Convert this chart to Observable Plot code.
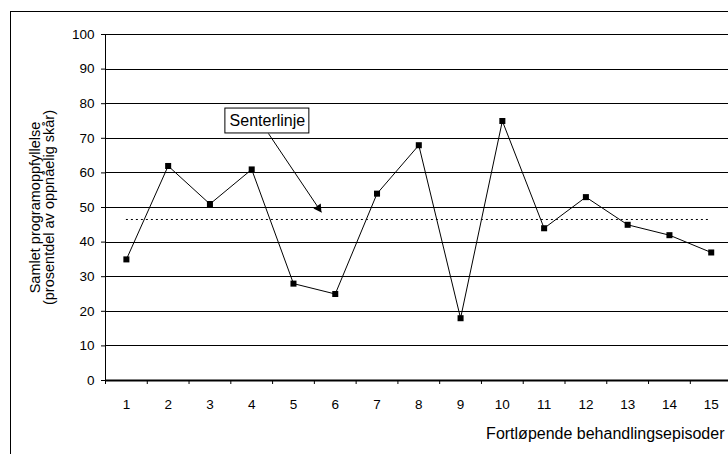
<!DOCTYPE html>
<html>
<head>
<meta charset="utf-8">
<script src="https://cdn.jsdelivr.net/npm/d3@7"></script>
<script src="https://cdn.jsdelivr.net/npm/@observablehq/plot@0.6"></script>
<style>
  html, body { margin: 0; padding: 0; background: #fff; overflow: hidden; }
  #wrap { position: relative; width: 728px; height: 454px; }
  #frame { position: absolute; left: 10px; top: 11px; width: 800px; height: 500px;
           border-left: 1px solid #000; border-top: 1px solid #000; box-sizing: border-box; }
  #chart { position: absolute; left: 0; top: 0; }
</style>
</head>
<body>
<div id="wrap"><div id="frame"></div><div id="chart"></div></div>
<script>
const episodes = [1, 2, 3, 4, 5, 6, 7, 8, 9, 10, 11, 12, 13, 14, 15];
const scores   = [35, 62, 51, 61, 28, 25, 54, 68, 18, 75, 44, 53, 45, 42, 37];
const yTicks   = [0, 10, 20, 30, 40, 50, 60, 70, 80, 90, 100];
const categoryEdges = [0.5, 1.5, 2.5, 3.5, 4.5, 5.5, 6.5, 7.5, 8.5, 9.5, 10.5, 11.5, 12.5, 13.5, 14.5, 15.5];
const centerLabel = "Senterlinje";
const xTitle = "Fortløpende behandlingsepisoder";
const yTitleLines = ["Samlet programoppfyllelse", "(prosentdel av oppnåelig skår)"];

const centerValue = d3.mean(scores);
const data = episodes.map((e, i) => ({episode: e, score: scores[i]}));

// annotation (label box + arrow pointing at the centre line)
const labelBox = [{x1: 3.37, x2: 5.38, y1: 71.4, y2: 78.6, xc: 4.375, yc: 75.0}];
const arrowLink = [{x1: 4.40, y1: 71.4, x2: 5.67, y2: 48.6}];
const arrowHead = [{x: 5.60, y: 49.8}];

const font = "'Liberation Sans', Arial, sans-serif";

const chart = Plot.plot({
  width: 728,
  height: 454,
  marginLeft: 105,
  marginRight: 0,
  marginTop: 34,
  marginBottom: 74,
  style: {fontFamily: font, color: "#000", background: "transparent", overflow: "visible"},
  x: {type: "linear", domain: [0.5, 15.5], range: [105, 731.6]},
  y: {domain: [0, 100]},
  marks: [
    Plot.ruleY(yTicks.filter(d => d > 0), {stroke: "#000", strokeWidth: 1, shapeRendering: "crispEdges"}),
    Plot.ruleX([0.5], {stroke: "#000", strokeWidth: 1, shapeRendering: "crispEdges"}),
    Plot.ruleY([0], {stroke: "#000", strokeWidth: 2}),
    Plot.axisY({ticks: yTicks, tickSize: 4, tickPadding: 7, fontSize: 13.5, label: null, tickFormat: d => String(d)}),
    Plot.axisX({ticks: episodes, tickSize: 0, tickPadding: 19, fontSize: 13.5, label: null, tickFormat: d => String(d)}),
    Plot.axisX({ticks: categoryEdges, tickSize: 4, label: null, tickFormat: () => ""}),
    Plot.ruleY([centerValue], {x1: episodes[0], x2: episodes[episodes.length - 1], stroke: "#000", strokeWidth: 1, strokeDasharray: "2,3"}),
    Plot.line(data, {x: "episode", y: "score", stroke: "#000", strokeWidth: 1}),
    Plot.dot(data, {x: "episode", y: "score", symbol: "square", r: 3.4, fill: "#000", stroke: "none"}),
    Plot.link(arrowLink, {x1: "x1", y1: "y1", x2: "x2", y2: "y2", stroke: "#000", strokeWidth: 1}),
    Plot.dot(arrowHead, {x: "x", y: "y", symbol: "triangle", r: 3.3, fill: "#000", stroke: "none", rotate: 146}),
    Plot.rect(labelBox, {x1: "x1", x2: "x2", y1: "y1", y2: "y2", fill: "#fff", stroke: "#000", strokeWidth: 1}),
    Plot.text(labelBox, {x: "xc", y: "yc", text: () => centerLabel, fontSize: 16, fill: "#000"}),
    Plot.text([xTitle], {frameAnchor: "bottom-right", textAnchor: "end", lineAnchor: "middle", dx: -4, dy: 53, fontSize: 16, fill: "#000"}),
    Plot.text([yTitleLines.join("\n")], {frameAnchor: "left", textAnchor: "middle", rotate: -90, lineAnchor: "middle", dx: -63, fontSize: 14.5, lineHeight: 0.965, fill: "#000"})
  ]
});
document.getElementById("chart").appendChild(chart);
</script>
</body>
</html>
